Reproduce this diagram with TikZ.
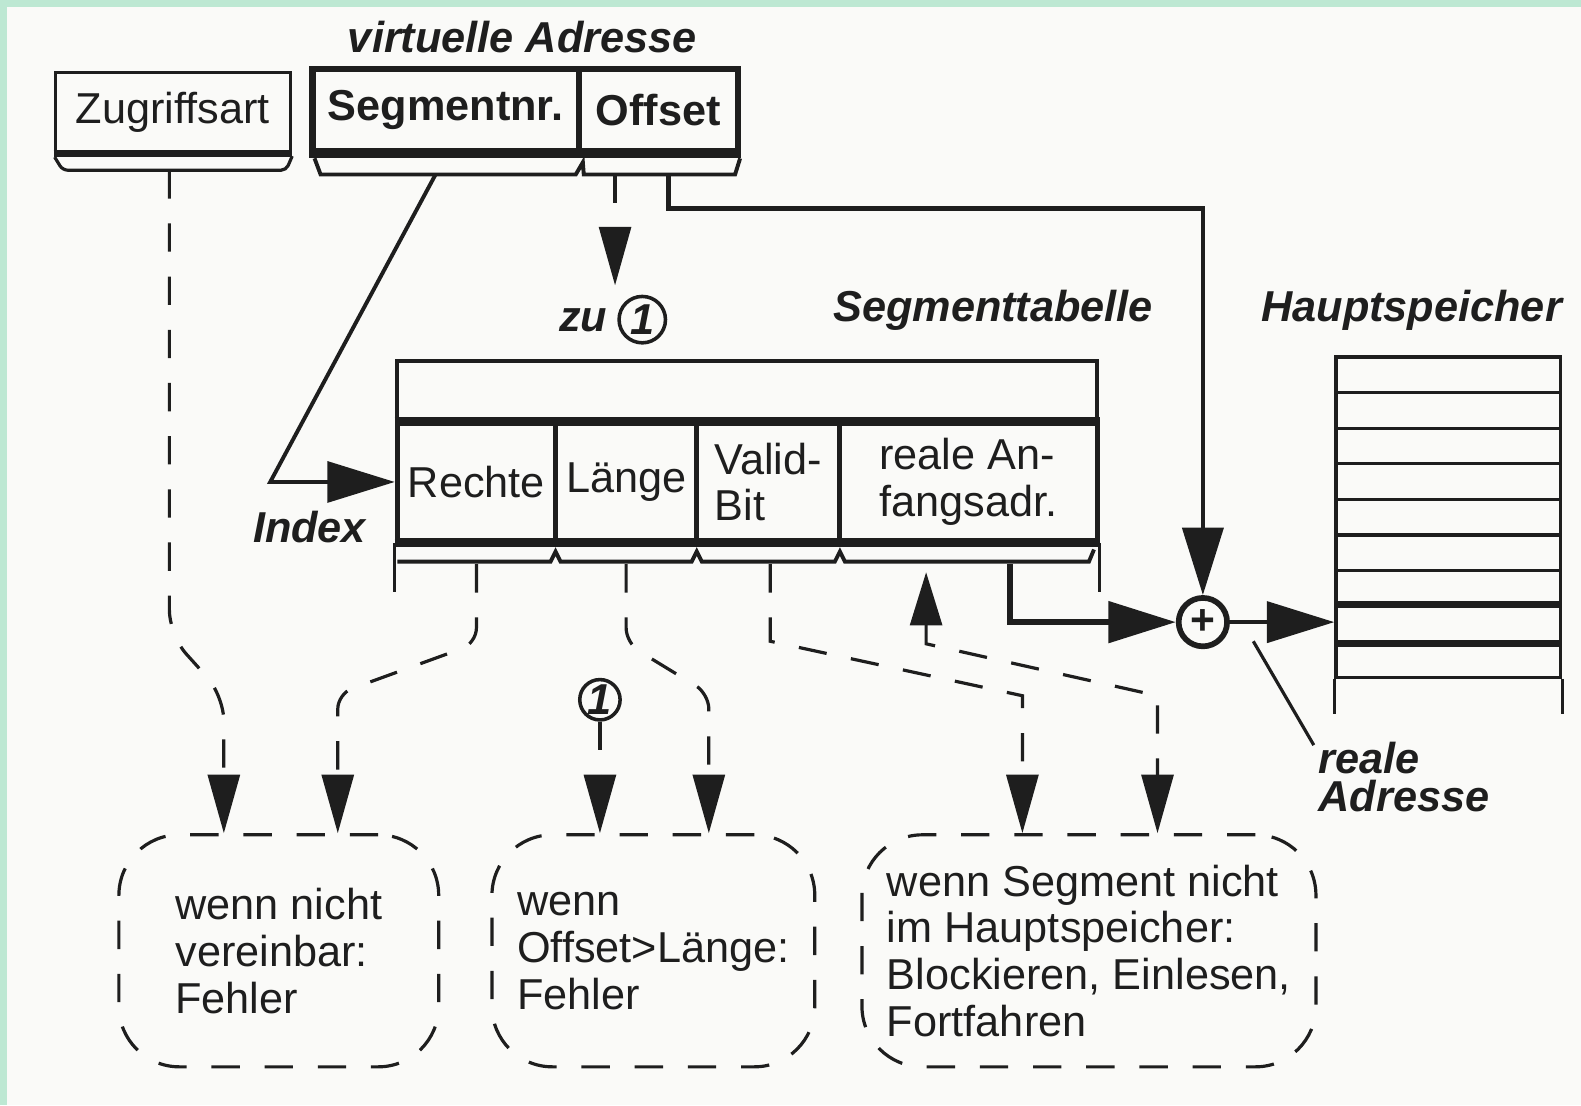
\documentclass[tikz,border=0pt]{standalone}
\usepackage{fontspec}
\setmainfont{Liberation Sans}
\usetikzlibrary{arrows.meta,calc}
\definecolor{mint}{HTML}{BDE8D3}
\definecolor{paper}{HTML}{FAFAF8}
\definecolor{ink}{HTML}{1E1E1E}
\begin{document}
\begin{tikzpicture}[x=0.01cm, y=-0.01cm,
  every node/.style={font=\fontsize{12.2}{13.2}\selectfont, text=ink, inner sep=0pt},
  ln/.style={line width=0.9pt, draw=ink},
  lnthick/.style={line width=2pt, draw=ink},
  dl/.style={line width=0.9pt, draw=ink, dash pattern=on 8pt off 7pt},
  ahv/.style={-{Triangle[length=16.5pt,width=9pt]}},
  ahb/.style={-{Triangle[length=19pt,width=11.5pt]}},
  lab/.style={font=\fontsize{12.2}{13.2}\selectfont\bfseries\itshape},
  cellbox/.style={draw=ink, line width=1.4pt, minimum height=1.16cm},
  dbox/.style={draw=ink, line width=0.9pt, dash pattern=on 8pt off 7pt, rounded corners=0.6cm, minimum height=2.30cm, align=left},
  memcell/.style={draw=ink, line width=0.9pt, minimum width=2.23cm, minimum height=0.353cm}
]
% background
\fill[paper] (0,0) rectangle (1568,1096);
\fill[mint] (0,0) rectangle (1568,7);
\fill[mint] (0,0) rectangle (7,1096);
\useasboundingbox (0,0) rectangle (1568,1096);

% labels
\node[lab] (va) at (518,37) {virtuelle Adresse};
\node[lab] (st) at (985,308) {Segmenttabelle};
\node[lab] (hs) at (1400,308) {Hauptspeicher};
\node[lab] (idx) at (307,523) {Index};

% Zugriffsart
\node[draw=ink, line width=1pt, minimum width=2.33cm, minimum height=0.78cm] (zug) at (171.5,111) {Zugriffsart};
\draw[lnthick] (zug.south west) -- (zug.south east);
\draw[ln, rounded corners=0.05cm] ($(zug.south west)+(1,4)$) -- ($(zug.south west)+(9,17)$) -- ($(zug.south east)+(-6,17)$) -- ($(zug.south east)+(0,3)$);
\coordinate (zugb) at ($(zug.south)+(-3.5,17)$);

% virtual address
\node[draw=ink, line width=1.7pt, minimum width=2.64cm, minimum height=0.82cm, font=\fontsize{12.2}{13.2}\selectfont\bfseries] (seg) at (442,109) {Segmentnr.};
\node[draw=ink, line width=1.7pt, minimum width=1.58cm, minimum height=0.82cm, font=\fontsize{12.2}{13.2}\selectfont\bfseries] (off) at (653,109) {Offset};
\draw[lnthick] (seg.south west) -- (off.south east);
\draw[ln, line width=1.1pt] ($(seg.south west)+(5,4)$) -- ($(seg.south west)+(11,20)$) -- ($(seg.south east)+(-6,20)$) -- ($(seg.south east)+(1,8)$) -- ($(off.south west)+(8,20)$) -- ($(off.south east)+(-6,20)$) -- ($(off.south east)+(-1,4)$);
\coordinate (segb) at ($(seg.south)+(-10,20)$);
\coordinate (offb1) at ($(off.south)+(-43,20)$);
\coordinate (offb2) at ($(off.south)+(10,20)$);

% zu (1)
\node[lab, anchor=east] (zu) at (603,318) {zu};
\node[circle, draw=ink, line width=1pt, minimum size=0.46cm, lab] (c1t) at (637,317) {1};
\coordinate (zutip) at (610,283);
\draw[dl, ahv] (offb1) -- (zutip);

% segment table
\node[draw=ink, line width=1pt, minimum width=6.94cm, minimum height=0.62cm] (ttop) at (741,389) {};
\node[cellbox, minimum width=1.57cm] (rechte) at (472.5,478) {Rechte};
\node[cellbox, minimum width=1.40cm] (laenge) at (621,478) {Länge};
\node[cellbox, minimum width=1.42cm, align=left] (valid) at (762,478) {Valid-\\Bit};
\node[cellbox, minimum width=2.55cm, align=left] (anf) at (960.5,478) {reale An-\\fangsadr.};
\draw[lnthick] (rechte.north west) -- (anf.north east);
\draw[lnthick] (rechte.south west) -- (anf.south east);
\draw[ln] (rechte.south west) -- ++(0,49);
\draw[ln] (anf.south east) -- ++(0,49);
\draw[ln, line width=1.1pt] (394,557) -- (546,557) -- (551,547) -- (556,557) -- (686,557) -- (691,547) -- (696,557) -- (828,557) -- (833,547) -- (838,557) -- (1080,557) -- (1085,545);
\coordinate (rt) at ($(rechte.south)+(0,21)$);
\coordinate (lt) at ($(laenge.south)+(0,21)$);
\coordinate (vt) at ($(valid.south)+(2,21)$);
\coordinate (atip) at ($(anf.south)+(-42,29)$);
\coordinate (ab) at ($(anf.south)+(41.5,21)$);

% memory
\foreach \i in {1,...,9}
  \node[memcell] (m\i) at (1436.5,{354+35.3*(\i-0.5)}) {};
\draw[ln] (m9.south west) -- ++(0,35);
\draw[ln] (m9.south east) -- ++(0,35);
\draw[lnthick] (m8.north west) -- (m8.north east);
\draw[lnthick] (m8.south west) -- (m8.south east);

% adder
\node[circle, draw=ink, line width=1.6pt, minimum size=0.48cm, font=\fontsize{12}{12}\selectfont\bfseries] (plus) at (1193,617) {+};

% solid connectors
\draw[ln, line width=1.1pt, ahb] (segb) -- (268,478) -- (rechte.west);
\draw[ln, line width=1.3pt, ahb] (offb2) -- (663,207) -| (plus.north);
\draw[ln, line width=1.6pt, ahb] (ab) -- (1002,617) -- (plus.west);
\draw[ln, line width=1.3pt, ahb] (plus.east) -- (plus.east -| m8.west);

% real address label
\node[lab, align=left, anchor=north west, font=\fontsize{12.2}{10.8}\selectfont\bfseries\itshape] (radr) at (1307,735) {reale\\Adresse};
\coordinate (ptr) at (1243,636);
\draw[ln] (ptr) -- ($(radr.north west)+(-4,4)$);

% bottom boxes
\node[dbox, minimum width=3.17cm] (b1) at (276.5,943) {wenn nicht\\vereinbar:\\Fehler};
\node[dbox, minimum width=3.20cm] (b2) at (648,943) {wenn\\Offset>Länge:\\Fehler};
\node[dbox, minimum width=4.50cm] (b3) at (1080,943) {wenn Segment nicht\\im Hauptspeicher:\\Blockieren, Einlesen,\\Fortfahren};

\node[circle, draw=ink, line width=1pt, minimum size=0.40cm, lab] (c1b) at (595,694) {1};

% dashed connectors
\draw[dl, ahv, rounded corners=0.25cm] (zugb) -- (168,630) -- (222,690) -- ($(b1.north)+(-54.5,0)$);
\draw[dl, ahv, rounded corners=0.15cm] (rt) -- (472.5,638) -- (335,688) -- ($(b1.north)+(58.5,0)$);
\draw[dl, ahv, rounded corners=0.15cm] (lt) -- (621,638) -- (703,688) -- ($(b2.north)+(55,0)$);
\draw[dl, ahv] (c1b.south) -- ($(b2.north)+(-53,0)$);
\draw[dl, ahv] (vt) -- (764,636) -- (1014,690) -- ($(b3.north)+(-66,0)$);
\draw[dl, {Triangle[length=15pt,width=9pt]}-{Triangle[length=16.5pt,width=9pt]}] (atip) -- ++(0,71) -- (1148,690) -- ($(b3.north)+(68,0)$);
\end{tikzpicture}
\end{document}
